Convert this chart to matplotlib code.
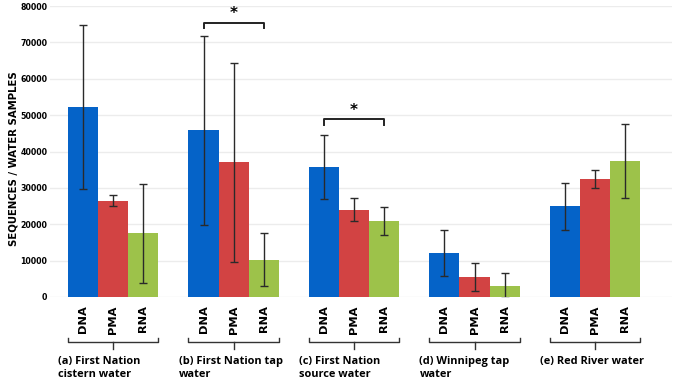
import numpy as np
import matplotlib
matplotlib.use("Agg")
import matplotlib.pyplot as plt
import matplotlib.transforms as mtransforms

# values
groups = ["(a) First Nation\ncistern water", "(b) First Nation tap\nwater",
          "(c) First Nation\nsource water", "(d) Winnipeg tap\nwater",
          "(e) Red River water"]
methods = ["DNA", "PMA", "RNA"]
dna = [52300, 45800, 35700, 12100, 24900]
dna_err = [22500, 25900, 8700, 6300, 6500]
pma = [26500, 37000, 24000, 5500, 32400]
pma_err = [1600, 27300, 3100, 3900, 2400]
rna = [17500, 10300, 20900, 3100, 37400]
rna_err = [13700, 7200, 3800, 3400, 10100]
yticks = [0, 10000, 20000, 30000, 40000, 50000, 60000, 70000, 80000]

# significance brackets: (group index, first bar, last bar, height)
sig = [(1, 0, 2, 75400), (2, 0, 2, 48800)]

colors = ["#0563c8", "#d24343", "#9dc24a"]

fig = plt.figure(figsize=(6.75, 3.83), dpi=100)
ax = fig.add_axes([50/675, 86/383, 622/675, 291/383])

centers = np.arange(len(groups)) * 4
series = [(dna, dna_err), (pma, pma_err), (rna, rna_err)]
for i, (vals, errs) in enumerate(series):
    x = centers + (i - 1)
    ax.bar(x, vals, width=1.0, color=colors[i], zorder=2)
    ax.errorbar(x, vals, yerr=errs, fmt="none", ecolor="#2a2a2a",
                elinewidth=1.0, capsize=3, capthick=1.0, zorder=3)

ax.set_ylim(0, 80000)
ax.set_xlim(-2.1, 18.56)
ax.set_yticks(yticks)
ax.set_yticklabels([str(v) for v in yticks], fontsize=5.7, fontweight="bold",
                   family="DejaVu Sans")
ax.yaxis.grid(True, color="#ececec", linewidth=1.0, zorder=0)
ax.set_axisbelow(True)
ax.tick_params(axis="y", length=0, pad=2)
for s in ax.spines.values():
    s.set_visible(False)

xt = np.concatenate([centers + k for k in (-1, 0, 1)])
xl = [m for m in methods for _ in groups]
ax.set_xticks(xt)
ax.set_xticklabels(xl, rotation=90, fontsize=8.2, fontweight="bold",
                   family="DejaVu Sans")
ax.tick_params(axis="x", length=0, pad=6)

ax.set_ylabel("SEQUENCES / WATER SAMPLES", fontsize=7.3, fontweight="bold",
              family="DejaVu Sans")
ax.yaxis.set_label_coords(-0.051, 0.474)

# group brackets under the tick labels
tr = mtransforms.blended_transform_factory(ax.transData, ax.transAxes)
for c, name in zip(centers, groups):
    l, r = c - 1.5, c + 1.5
    ax.plot([l, l, r, r], [-0.140, -0.1536, -0.1536, -0.140], color="#333333",
            lw=1.0, transform=tr, clip_on=False)
    ax.plot([c, c], [-0.1536, -0.179], color="#333333", lw=1.0,
            transform=tr, clip_on=False)
    ax.text(l - 0.33, -0.203, name, transform=tr, ha="left", va="top",
            fontsize=7.9, fontweight="bold", family="Open Sans", linespacing=1.2)

# significance markers
for g, a, b, h in sig:
    x1 = centers[g] + a - 1
    x2 = centers[g] + b - 1
    ax.plot([x1, x1, x2, x2], [h - 1500, h, h, h - 1500], color="#222222",
            lw=1.4, clip_on=False, zorder=4)
    ax.text((x1 + x2) / 2, h + 2600, "*", ha="center", va="center",
            fontsize=11, fontweight="bold", family="DejaVu Sans")

fig.savefig("out.png", dpi=100)
